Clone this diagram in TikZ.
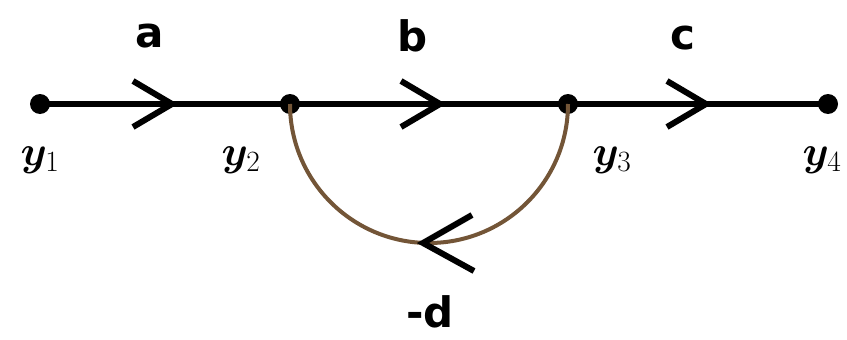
\RequirePackage{fix-cm}
\documentclass[tikz,border=0pt]{standalone}
\usepackage{fontspec}
\usepackage{bm}
\newfontfamily\lblfont{DejaVu Sans}
\usetikzlibrary{calc}
\definecolor{arcbrown}{RGB}{115,85,55}
\tikzset{
  dot/.style={circle,fill=black,inner sep=0pt,minimum size=20pt},
  branch/.style={line width=6pt},
  chev/.style={line width=6pt,line cap=butt,line join=miter},
  fbranch/.style={line width=4pt,draw=arcbrown},
  gain/.style={font=\lblfont\bfseries\fontsize{42}{42}\selectfont,inner sep=0pt},
  var/.style={font=\fontsize{42}{42}\selectfont,inner sep=0pt}
}
\begin{document}
\begin{tikzpicture}[x=1pt,y=1pt]
\useasboundingbox (0,0) rectangle (847,-340);
\node[dot] (y1) at (40,-104) {};
\node[dot] (y2) at (290,-104) {};
\node[dot] (y3) at (568,-104) {};
\node[dot] (y4) at (828,-104) {};
% forward branches
\draw[branch] (y1.center) -- (y2.center);
\draw[branch] (y2.center) -- (y3.center);
\draw[branch] (y3.center) -- (y4.center);
% feedback branch
\draw[fbranch] (y3.center) arc[start angle=0,end angle=-180,radius=139];
% chevrons
\coordinate (ta) at (172,-104);
\coordinate (tb) at (440,-104);
\coordinate (tc) at (706,-104);
\coordinate (td) at (423,-243);
\draw[chev] ($(ta)+(-39,23)$) -- (ta) -- ($(ta)+(-39,-23)$);
\draw[chev] ($(tb)+(-39,23)$) -- (tb) -- ($(tb)+(-39,-23)$);
\draw[chev] ($(tc)+(-39,23)$) -- (tc) -- ($(tc)+(-39,-23)$);
\draw[chev] ($(td)+(49,28)$) -- (td) -- ($(td)+(51,-28)$);
% gains
\node[gain] (la) at (150,-36) {a};
\node[gain] (lb) at (413,-36) {b};
\node[gain] (lc) at (683,-38) {c};
\node[gain] (ld) at (430,-312) {-d};
% variables
\node[var] (v1) at (40,-160) {$\bm{y}_1$};
\node[var] (v2) at (241,-160) {$\bm{y}_2$};
\node[var] (v3) at (612,-160) {$\bm{y}_3$};
\node[var] (v4) at (822,-160) {$\bm{y}_4$};
\end{tikzpicture}
\end{document}
